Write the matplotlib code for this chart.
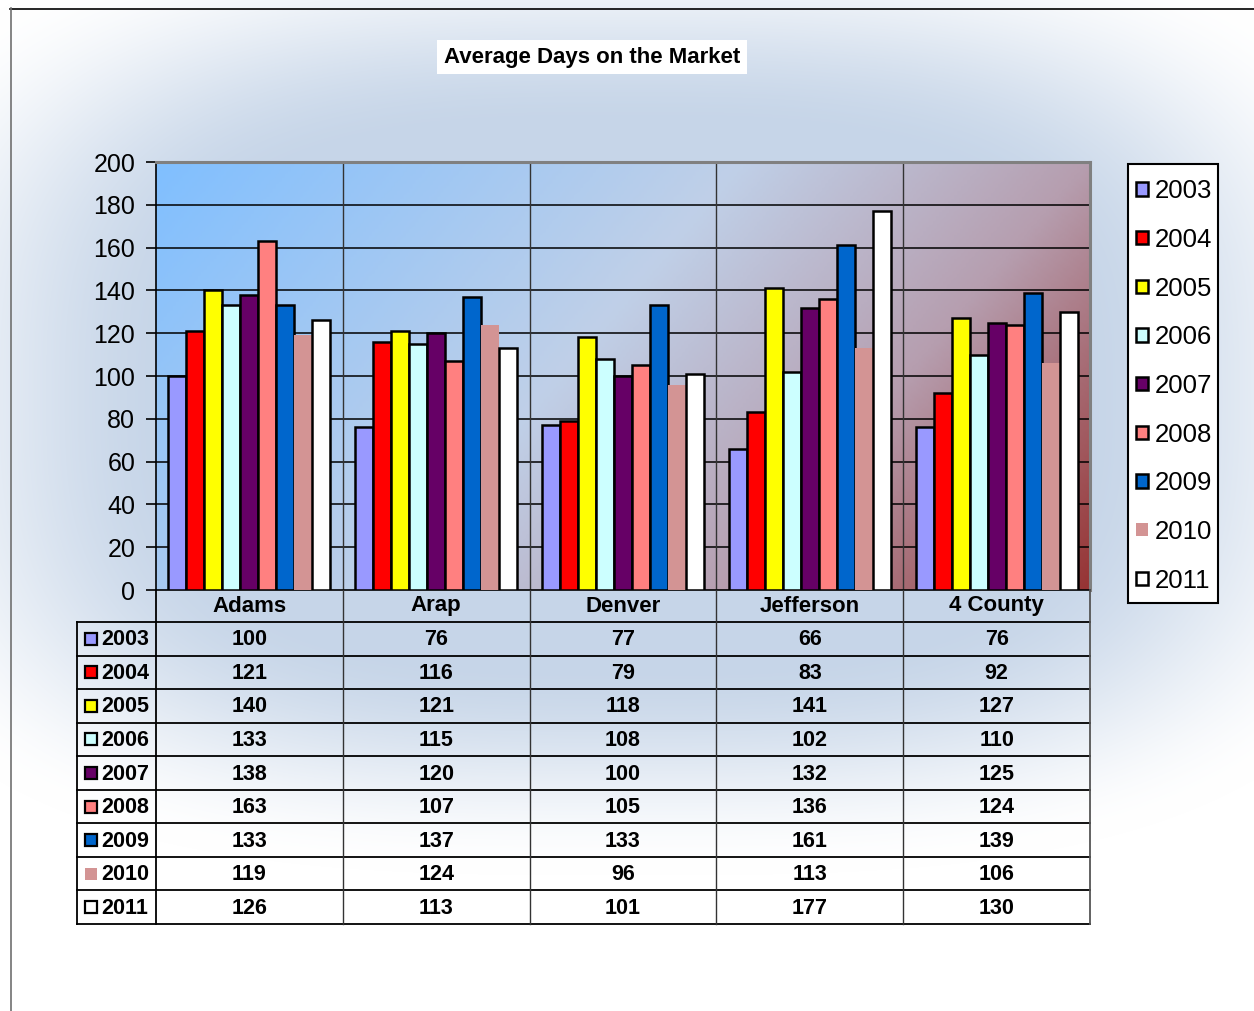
import numpy as np
import matplotlib
matplotlib.use("Agg")
import matplotlib.pyplot as plt
from matplotlib.colors import LinearSegmentedColormap
from matplotlib.patches import Rectangle
from matplotlib.transforms import blended_transform_factory

plt.rcParams['font.family'] = ['Liberation Sans', 'DejaVu Sans']

# chart data
counties = ['Adams', 'Arap', 'Denver', 'Jefferson', '4 County']
years = ['2003', '2004', '2005', '2006', '2007', '2008', '2009', '2010', '2011']
days_2003 = [100, 76, 77, 66, 76]
days_2004 = [121, 116, 79, 83, 92]
days_2005 = [140, 121, 118, 141, 127]
days_2006 = [133, 115, 108, 102, 110]
days_2007 = [138, 120, 100, 132, 125]
days_2008 = [163, 107, 105, 136, 124]
days_2009 = [133, 137, 133, 161, 139]
days_2010 = [119, 124, 96, 113, 106]
days_2011 = [126, 113, 101, 177, 130]
series = [days_2003, days_2004, days_2005, days_2006, days_2007,
          days_2008, days_2009, days_2010, days_2011]
y_ticks = [0, 20, 40, 60, 80, 100, 120, 140, 160, 180, 200]

colors = ['#9999FF', '#FF0000', '#FFFF00', '#CCFFFF', '#660066',
          '#FF8080', '#0066CC', '#D39494', '#FFFFFF']
edges = ['black'] * 9
edges[7] = 'none'

W, H = 1254, 1011
fig = plt.figure(figsize=(W / 100, H / 100), dpi=100)

# --- page background: wash from the centre out to white ---
bg = fig.add_axes([0, 0, 1, 1], zorder=-10)
yy, xx = np.mgrid[0:H, 0:W]
dx = np.abs(xx - 625) / 800.0
dy = np.abs(yy - 395) / 480.0
r = (dx ** 3 + dy ** 3) ** (1 / 3.0)
f = np.clip((r - 0.55) / 0.45, 0, 1)
f = f * f * (3 - 2 * f)
center = np.array([198, 213, 232]) / 255.0
img = center[None, None, :] * (1 - f[..., None]) + f[..., None]
bg.imshow(img, extent=(0, W, H, 0), aspect='auto', interpolation='bilinear')
bg.set_xlim(0, W)
bg.set_ylim(H, 0)
bg.axis('off')
bg.plot([10, W], [8.5, 8.5], color='black', lw=1.2)
bg.plot([10.5, 10.5], [8, H], color='#707070', lw=1.2)
# legend frame
bg.add_patch(Rectangle((1128, 164), 90, 439, facecolor='white',
                       edgecolor='black', lw=1.5, zorder=5))

# --- main plot area ---
px0, px1, py0, py1 = 156, 1090, 162, 590
ax = fig.add_axes([px0 / W, 1 - py1 / H, (px1 - px0) / W, (py1 - py0) / H])

plot_cmap = LinearSegmentedColormap.from_list(
    'area', [(0.0, (128 / 255, 191 / 255, 1.0)),
             (0.45, (192 / 255, 208 / 255, 232 / 255)),
             (0.72, (182 / 255, 158 / 255, 175 / 255)),
             (1.0, (150 / 255, 52 / 255, 52 / 255))])
gy, gx = np.mgrid[0:1:200j, 0:1:300j]
t = np.clip(0.72 * gx + 0.28 * gy, 0, 1)
ax.imshow(plot_cmap(t), extent=(-0.5, 4.5, 0, 200), aspect='auto',
          origin='upper', zorder=0, interpolation='bilinear')

x = np.arange(len(counties))
bw = 0.0963
for i, vals in enumerate(series):
    ax.bar(x + (i - 4) * bw, vals, width=bw, color=colors[i],
           edgecolor=edges[i], linewidth=1.8, zorder=3, label=years[i])

ax.set_xlim(-0.5, 4.5)
ax.set_ylim(0, 200)
ax.set_yticks(y_ticks)
ax.set_yticklabels([str(v) for v in y_ticks], fontsize=18)
ax.set_xticks([])
ax.tick_params(axis='y', direction='out', length=7, width=1.2, pad=8)
for v in y_ticks[1:-1]:
    ax.axhline(v, color='black', lw=1.1, zorder=1)
for b in np.arange(0.5, 4.5, 1.0):
    ax.axvline(b, color='#333333', lw=1.0, zorder=1)
ax.spines['left'].set_color('black')
ax.spines['bottom'].set_color('black')
ax.spines['left'].set_linewidth(1.2)
ax.spines['bottom'].set_linewidth(1.2)
ax.spines['top'].set_color('#808080')
ax.spines['right'].set_color('#808080')
ax.spines['top'].set_linewidth(2.2)
ax.spines['right'].set_linewidth(2.2)

# legend entries (frame drawn separately above)
leg = fig.legend(loc='upper left', bbox_to_anchor=(1128 / W, 1 - 171.5 / H),
                 fontsize=18.5, frameon=False,
                 handlelength=0.48, handleheight=0.42,
                 handletextpad=0.25, labelspacing=0.96, borderpad=0.3,
                 borderaxespad=0)

# --- data table under the chart ---
tab = fig.add_axes([0, 0, 1, 1], zorder=5)
tab.set_xlim(0, W)
tab.set_ylim(H, 0)
tab.axis('off')
tab.patch.set_alpha(0)
blend = blended_transform_factory(ax.transData, tab.transData)

row_top = 622
row_h = (924 - 622) / 9.0
tab_bottom = row_top + row_h * 9

# header row
for j, name in enumerate(counties):
    tab.text(x[j], 606, name, transform=blend, ha='center', va='center',
             fontsize=16, fontweight='bold')

# horizontal rules
for k in range(10):
    yk = row_top + k * row_h
    tab.plot([77, 1090], [yk, yk], color='black', lw=1.3)
# vertical rules
tab.plot([77, 77], [row_top, tab_bottom], color='black', lw=1.3)
tab.plot([156, 156], [py1, tab_bottom], color='black', lw=1.3)
for b in np.arange(0.5, 4.5, 1.0):
    tab.plot([b, b], [py1, tab_bottom], transform=blend, color='#333333', lw=1.0)
tab.plot([4.5, 4.5], [py1, tab_bottom], transform=blend, color='#555555', lw=1.3)

for i, vals in enumerate(series):
    yc = row_top + (i + 0.5) * row_h
    tab.add_patch(Rectangle((85, yc - 6), 12, 12, facecolor=colors[i],
                            edgecolor=edges[i], lw=1.6))
    tab.text(101, yc + 1, years[i], ha='left', va='center',
             fontsize=15.5, fontweight='bold')
    for j, v in enumerate(vals):
        tab.text(x[j], yc + 1, str(v), transform=blend, ha='center',
                 va='center', fontsize=15.5, fontweight='bold')

fig.text(592 / W, 1 - 57 / H, 'Average Days on the Market', ha='center',
         va='center', fontsize=16, fontweight='bold',
         bbox=dict(facecolor='white', edgecolor='none', pad=5))

fig.savefig('out.png', dpi=100)
